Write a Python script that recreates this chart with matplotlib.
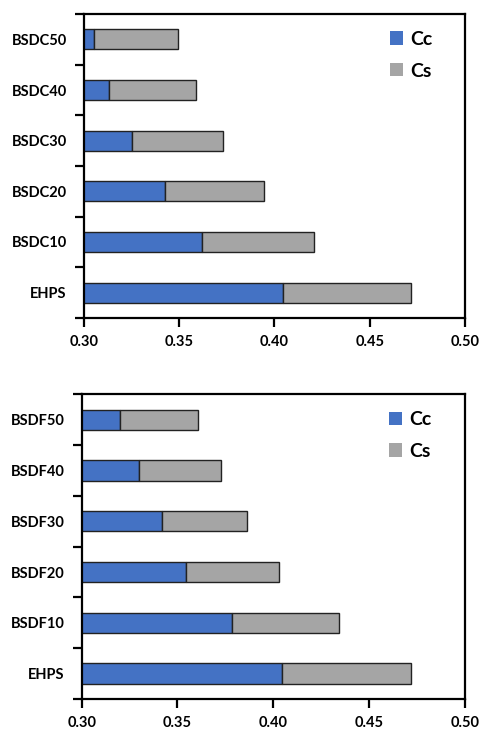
import matplotlib.pyplot as plt
from matplotlib.ticker import MultipleLocator, FixedLocator
from matplotlib.patches import Patch

plt.rcParams['font.family'] = ['Lato', 'DejaVu Sans']

# data (Cc = blue part, Cc + Cs = bar end)
labels_top = ["EHPS", "BSDC10", "BSDC20", "BSDC30", "BSDC40", "BSDC50"]
cc_top = [0.4046, 0.3620, 0.3423, 0.3253, 0.3131, 0.3052]
total_top = [0.4719, 0.4205, 0.3943, 0.3732, 0.3589, 0.3493]

labels_bot = ["EHPS", "BSDF10", "BSDF20", "BSDF30", "BSDF40", "BSDF50"]
cc_bot = [0.4047, 0.3786, 0.3543, 0.3417, 0.3301, 0.3202]
total_bot = [0.4720, 0.4341, 0.4031, 0.3864, 0.3725, 0.3605]

blue = "#4472C4"
grey = "#A5A5A5"


def draw_panel(ax, labels, cc, total):
    cs = [t - c for t, c in zip(total, cc)]
    pos = range(len(labels))
    ax.barh(pos, cc, height=0.4, color=blue, edgecolor="#222222", linewidth=1)
    ax.barh(pos, cs, left=cc, height=0.4, color=grey, edgecolor="#222222", linewidth=1)

    ax.set_xlim(0.30, 0.50)
    ax.set_ylim(-0.5, len(labels) - 0.5)
    ax.xaxis.set_major_locator(MultipleLocator(0.05))
    ax.xaxis.set_major_formatter(plt.FormatStrFormatter('%.2f'))

    # ticks between categories, labels in the middle
    ax.yaxis.set_major_locator(FixedLocator([i - 0.5 for i in range(len(labels) + 1)]))
    ax.yaxis.set_major_formatter(plt.NullFormatter())
    ax.yaxis.set_minor_locator(FixedLocator(list(pos)))
    ax.set_yticks(list(pos), labels, minor=True)

    for s in ax.spines.values():
        s.set_linewidth(1.6)
    ax.tick_params(axis='both', which='major', direction='out', length=6.5, width=1.6)
    ax.tick_params(axis='x', labelsize=10.5, pad=6)
    ax.tick_params(axis='y', which='minor', length=0, pad=12.5, labelsize=10.5)
    for t in ax.get_yticklabels(minor=True) + ax.get_xticklabels():
        t.set_fontweight('bold')

    handles = [Patch(facecolor=blue, edgecolor='none', label="Cc"),
               Patch(facecolor=grey, edgecolor='none', label="Cs")]
    leg = ax.legend(handles=handles, loc='upper left', bbox_to_anchor=(0.803, 0.945),
                    frameon=False, fontsize=14, handlelength=0.67, handleheight=0.67,
                    handletextpad=0.35, labelspacing=0.76, borderpad=0, borderaxespad=0)
    for t in leg.get_texts():
        t.set_fontweight('bold')


fig = plt.figure(figsize=(4.83, 7.31), dpi=100)
ax1 = fig.add_axes([0.1739, 0.565, 0.7888, 0.4158])
ax2 = fig.add_axes([0.169, 0.0438, 0.7937, 0.4168])

draw_panel(ax1, labels_top, cc_top, total_top)
draw_panel(ax2, labels_bot, cc_bot, total_bot)

fig.savefig("out.png", dpi=100)
